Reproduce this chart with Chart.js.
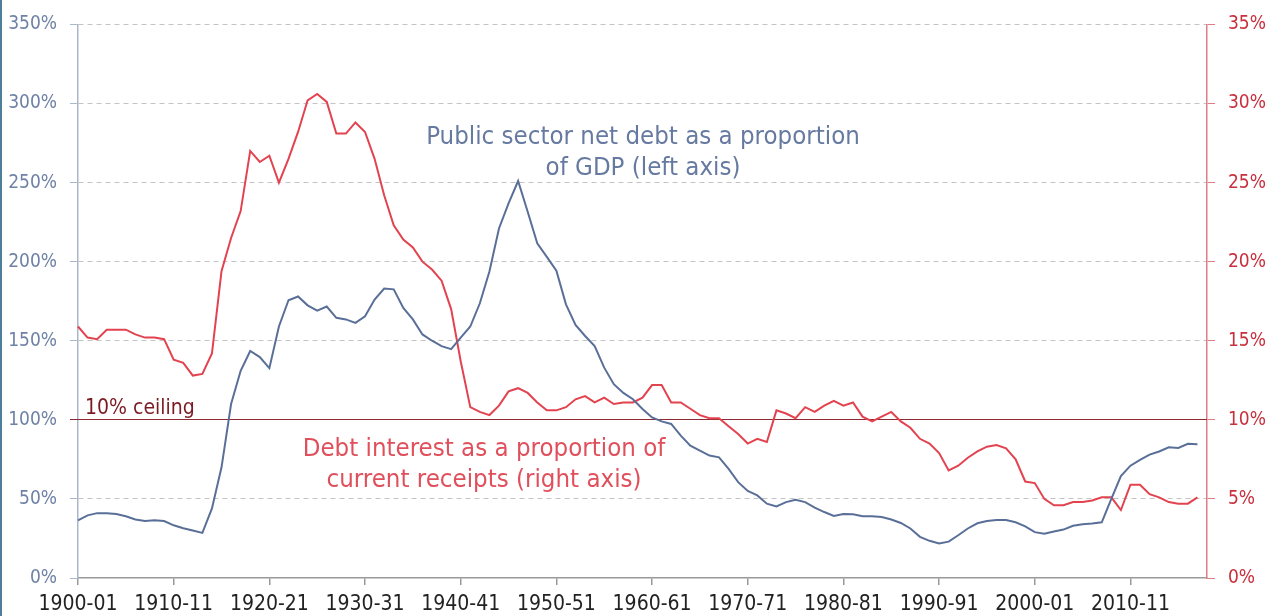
<!DOCTYPE html>
<html>
<head>
<meta charset="utf-8">
<script src="https://cdn.jsdelivr.net/npm/chart.js@4.4.1/dist/chart.umd.min.js"></script>
<style>
  html, body { margin: 0; padding: 0; background: #fff; }
  body { width: 1274px; height: 616px; position: relative; overflow: hidden; }
  #edge { position: absolute; left: 0; top: 0; width: 2px; height: 616px; background: #4d7f9a; }
</style>
</head>
<body>
<canvas id="debtChart" width="1274" height="616"></canvas>
<div id="edge"></div>
<script>
// years 1900-01 .. 2018-19 (last slot is empty, axis ends there)
const yearLabels = [];
for (let y = 1900; y <= 2018; y++) {
    yearLabels.push(y + '-' + String((y + 1) % 100).padStart(2, '0'));
}

// Public sector net debt, % of GDP (left axis)
const debtGDP = [
    36.5, 39.6, 41, 41, 40.5, 39, 37, 36, 36.5, 36,
    33.3, 31.5, 30, 28.5, 44, 70, 110, 131, 143.5, 139.7,
    132.7, 159, 175.6, 178, 172.4, 169, 171.6, 164.5, 163.5, 161.3,
    165.5, 176, 183, 182.5, 170.7, 163.5, 154, 150, 146.6, 144.7,
    152, 159, 173.7, 193.8, 221, 236.8, 251, 231.6, 211.6, 203,
    194.3, 173, 160, 153, 146.6, 133, 122.5, 117, 113, 106.8,
    101.5, 99, 97.4, 90, 83.7, 80.5, 77.4, 76.3, 69, 60.6,
    55, 52.2, 47, 45.3, 48, 49.5, 48, 44.5, 41.7, 39.2,
    40.5, 40.3, 39, 39, 38.6, 37, 34.8, 31.3, 26, 23.5,
    21.8, 23, 27, 31.3, 34.6, 36, 36.7, 36.7, 35.2, 32.7,
    29, 28, 29.4, 30.6, 33, 34, 34.4, 35.2, 50, 64.4,
    71, 74.7, 78, 80, 82.6, 82.2, 84.8, 84.5
];

// Debt interest, % of current receipts (right axis)
const interestReceipts = [
    15.9, 15.2, 15.1, 15.7, 15.7, 15.7, 15.4, 15.2, 15.2, 15.1,
    13.8, 13.6, 12.8, 12.9, 14.2, 19.4, 21.5, 23.2, 27, 26.3,
    26.7, 25, 26.5, 28.2, 30.2, 30.6, 30.1, 28.1, 28.1, 28.8,
    28.2, 26.5, 24.2, 22.3, 21.4, 20.9, 20, 19.5, 18.8, 17,
    13.7, 10.8, 10.5, 10.3, 10.9, 11.8, 12, 11.7, 11.1, 10.6,
    10.6, 10.8, 11.3, 11.5, 11.1, 11.4, 11, 11.1, 11.1, 11.4,
    12.2, 12.2, 11.1, 11.1, 10.7, 10.3, 10.1, 10.1, 9.6, 9.1,
    8.5, 8.8, 8.6, 10.6, 10.4, 10.1, 10.8, 10.5, 10.9, 11.2,
    10.9, 11.1, 10.2, 9.9, 10.2, 10.5, 9.9, 9.5, 8.8, 8.5,
    7.9, 6.8, 7.1, 7.6, 8, 8.3, 8.4, 8.2, 7.5, 6.1,
    6, 5, 4.6, 4.6, 4.8, 4.8, 4.9, 5.1, 5.1, 4.3,
    5.9, 5.9, 5.3, 5.1, 4.8, 4.7, 4.7, 5.1
];

const leftTicks = [0, 50, 100, 150, 200, 250, 300, 350];
const rightTicks = [0, 5, 10, 15, 20, 25, 30, 35];
const ceilingValue = 10;

const FONT = "'DejaVu Sans Condensed', 'DejaVu Sans', sans-serif";
const BLUE = '#5a6f98';
const RED = '#e2434f';

// 10% ceiling line + labels for the two series
const notesPlugin = {
    id: 'notes',
    beforeDatasetsDraw(chart) {
        const ctx = chart.ctx;
        const yR = chart.scales.yRight;
        const area = chart.chartArea;
        const y = Math.round(yR.getPixelForValue(ceilingValue)) - 0.5;
        ctx.save();
        ctx.strokeStyle = '#8b2a32';
        ctx.lineWidth = 1.2;
        ctx.beginPath();
        ctx.moveTo(area.left - 8, y);
        ctx.lineTo(area.right, y);
        ctx.stroke();
        ctx.fillStyle = '#7b1a22';
        ctx.font = '21px ' + FONT;
        ctx.textAlign = 'left';
        ctx.textBaseline = 'alphabetic';
        ctx.fillText('10% ceiling', area.left + 7, y - 6);
        ctx.restore();
    },
    afterDraw(chart) {
        const ctx = chart.ctx;
        ctx.save();
        ctx.font = '25.6px ' + FONT;
        ctx.textAlign = 'center';
        ctx.textBaseline = 'alphabetic';
        ctx.fillStyle = '#667aa1';
        ctx.fillText('Public sector net debt as a proportion', 643, 144);
        ctx.fillText('of GDP (left axis)', 643, 175);
        ctx.fillStyle = '#e0505c';
        ctx.fillText('Debt interest as a proportion of', 484, 456);
        ctx.fillText('current receipts (right axis)', 484, 487);
        ctx.restore();
    }
};

const data = {
    labels: yearLabels,
    datasets: [
        {
            label: 'Public sector net debt as a proportion of GDP',
            data: debtGDP,
            yAxisID: 'yLeft',
            borderColor: BLUE,
            borderWidth: 2,
            pointRadius: 0,
            tension: 0
        },
        {
            label: 'Debt interest as a proportion of current receipts',
            data: interestReceipts,
            yAxisID: 'yRight',
            borderColor: RED,
            borderWidth: 2,
            pointRadius: 0,
            tension: 0
        }
    ]
};

const options = {
    responsive: false,
    animation: false,
    layout: { padding: { top: 22, left: 0, right: 0, bottom: 0 } },
    plugins: {
        legend: { display: false },
        tooltip: { enabled: false }
    },
    scales: {
        x: {
            type: 'category',
            offset: false,
            afterFit: s => { s.height = 38; },
            grid: { drawOnChartArea: false, tickLength: 7, tickColor: '#999', lineWidth: 1.5 },
            border: { display: true, color: '#999', width: 1.5 },
            ticks: {
                autoSkip: false,
                maxRotation: 0,
                padding: 7,
                color: '#222',
                font: { family: FONT, size: 21 },
                callback: (val, i) => (i % 10 === 0 ? yearLabels[i] : null)
            }
        },
        yLeft: {
            position: 'left',
            min: 0, max: 350,
            afterFit: s => { s.width = 78; },
            afterBuildTicks: s => { s.ticks = leftTicks.map(v => ({ value: v })); },
            grid: {
                color: c => (c.tick && (c.tick.value === 0 || c.tick.value === 100) ? 'rgba(0,0,0,0)' : '#c4c4c4'),
                lineWidth: 1,
                tickLength: 8,
                tickColor: '#a9b6cc',
                tickBorderDash: []
            },
            border: { display: true, color: '#a9b6cc', width: 1.5, dash: [5, 4] },
            ticks: {
                padding: 13,
                color: '#6f82a6',
                font: { family: FONT, size: 19 },
                callback: v => v + '%'
            }
        },
        yRight: {
            position: 'right',
            min: 0, max: 35,
            afterFit: s => { s.width = 67; },
            afterBuildTicks: s => { s.ticks = rightTicks.map(v => ({ value: v })); },
            grid: { drawOnChartArea: false, tickLength: 8, tickColor: '#e07c86' },
            border: { display: true, color: '#e07c86', width: 1.5 },
            ticks: {
                padding: 13,
                color: '#c8303e',
                font: { family: FONT, size: 19 },
                callback: v => v + '%'
            }
        }
    }
};

new Chart('debtChart', { type: 'line', data, options, plugins: [notesPlugin] });
</script>
</body>
</html>
